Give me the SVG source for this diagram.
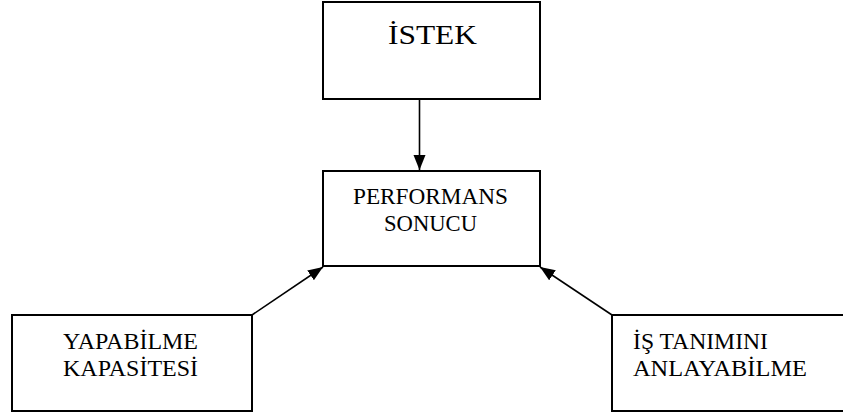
<svg xmlns="http://www.w3.org/2000/svg" width="843" height="414" viewBox="0 0 843 414">
<style>
.box{fill:#fff;stroke:#000;stroke-width:2}
.t{font-family:"Liberation Serif","Times New Roman",serif;fill:#000;font-size:23px}
.big{font-size:27px}
.c{stroke:#000;stroke-width:1.6;fill:none;marker-end:url(#ah)}
</style>
<defs>
<marker id="ah" markerUnits="userSpaceOnUse" markerWidth="16" markerHeight="14" refX="15" refY="6" orient="auto">
<path d="M0,0 L15,6 L0,12 Z" fill="#000"/>
</marker>
</defs>
<rect width="843" height="414" fill="#fff"/>
<g id="connectors">
<line class="c" x1="419.5" y1="99" x2="419.5" y2="170"/>
<line class="c" x1="252" y1="315" x2="323" y2="267"/>
<line class="c" x1="612" y1="315" x2="540" y2="267"/>
</g>
<g id="istek">
<rect class="box" x="323" y="2" width="217" height="97"/>
<text class="t big" x="388" y="43.5" textLength="89" lengthAdjust="spacingAndGlyphs">İSTEK</text>
</g>
<g id="performans">
<rect class="box" x="323" y="171" width="217" height="95"/>
<text class="t" x="353" y="203.5" textLength="155" lengthAdjust="spacingAndGlyphs">PERFORMANS</text>
<text class="t" x="384" y="230.5" textLength="93" lengthAdjust="spacingAndGlyphs">SONUCU</text>
</g>
<g id="yapabilme">
<rect class="box" x="12" y="315" width="240" height="96"/>
<text class="t" x="63" y="349" textLength="135" lengthAdjust="spacingAndGlyphs">YAPABİLME</text>
<text class="t" x="63" y="376" textLength="135" lengthAdjust="spacingAndGlyphs">KAPASİTESİ</text>
</g>
<g id="is-tanimi">
<rect class="box" x="612" y="315" width="240" height="96"/>
<text class="t" x="633" y="349" textLength="135" lengthAdjust="spacingAndGlyphs">İŞ TANIMINI</text>
<text class="t" x="633" y="376" textLength="174" lengthAdjust="spacingAndGlyphs">ANLAYABİLME</text>
</g>
</svg>
